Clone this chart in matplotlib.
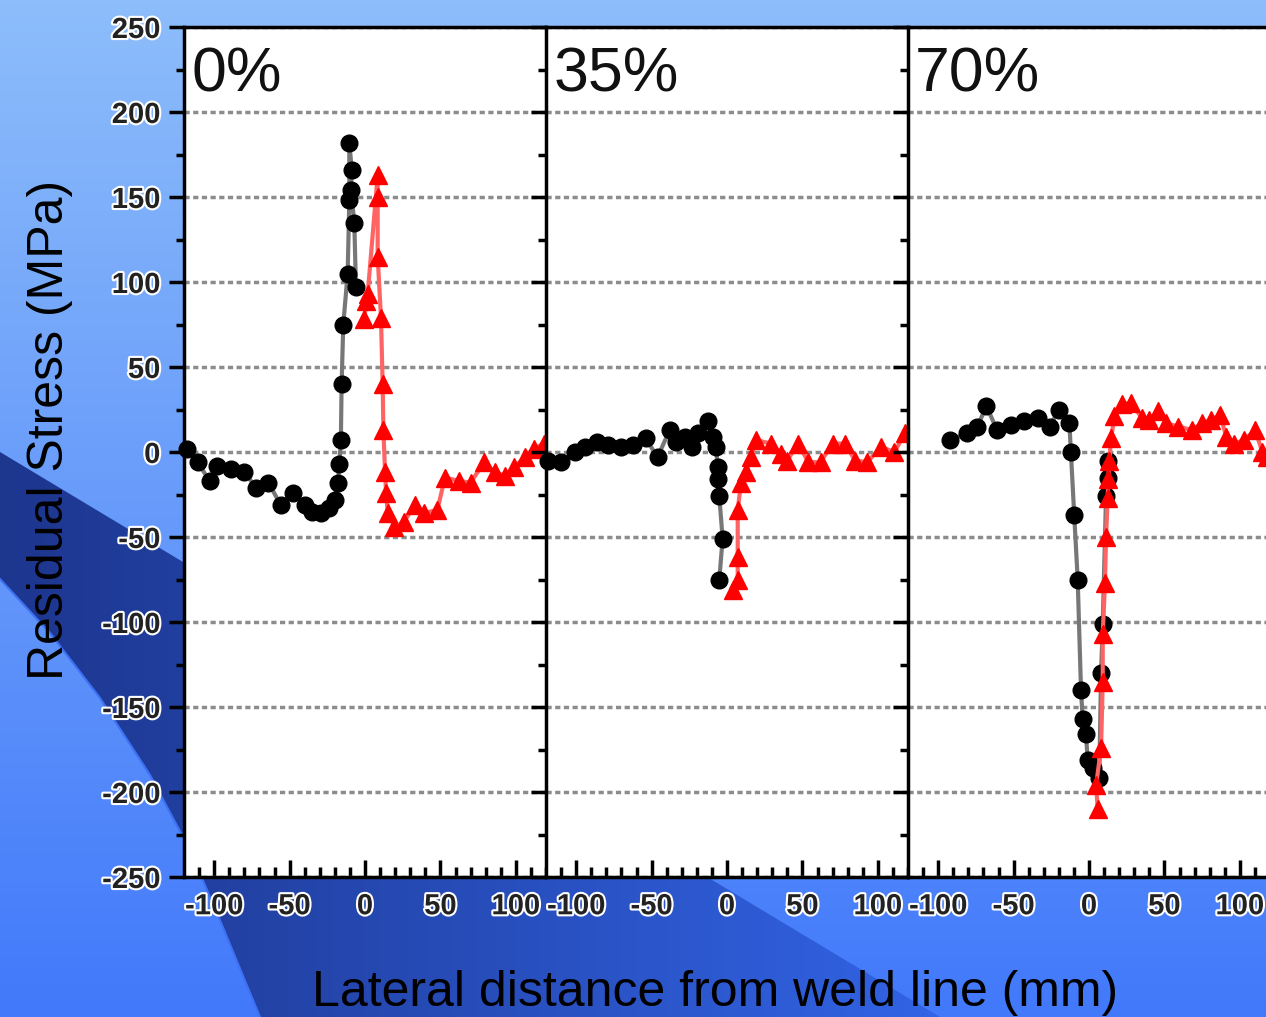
import numpy as np
import matplotlib.pyplot as plt
import matplotlib.patheffects as pe
from matplotlib.patches import Polygon
from matplotlib.colors import LinearSegmentedColormap

plt.rcParams['font.family'] = ['Liberation Sans', 'DejaVu Sans']
plt.rcParams['axes.unicode_minus'] = False

panel_names = ['0%', '35%', '70%']
x_ticks = [-100, -50, 0, 50, 100]
y_ticks = [-250, -200, -150, -100, -50, 0, 50, 100, 150, 200, 250]

# 0 % panel
black_x_0 = [-118, -111, -103, -98, -89, -80, -72, -64, -56, -48, -40, -35, -29, -24, -20, -18, -17, -16,
             -15.5, -14.4, -11.5, -10.4, -10.4, -8.8, -9.3, -7.1, -6]
black_y_0 = [2, -6, -17, -8, -10, -12, -21, -18, -31, -24, -31, -35, -36, -33, -28, -18, -7, 7,
             40, 75, 105, 148, 182, 166, 154, 135, 97]
red_x_0 = [-0.4, 0.7, 1.8, 8.4, 8.4, 8.4, 10.6, 11.7, 12.2, 13.3, 14, 15.1, 19.5, 26, 33, 39, 48, 53,
           62, 70, 79, 86, 93, 99, 106, 112, 119]
red_y_0 = [78, 89, 93, 163, 150, 115, 79, 40, 13, -12, -24, -36, -44, -41, -31, -36, -34, -15,
           -17, -18, -6, -12, -14, -9, -3, 2, 5]

# 35 % panel
black_x_35 = [-119, -110, -101, -94, -86, -79, -70, -62, -54, -46, -38, -34, -28, -23, -19.5, -12.8, -9.5,
              -7.3, -6.2, -6.2, -5.1, -2.9, -5.1]
black_y_35 = [-5, -6, 0, 3, 6, 4, 3, 4, 8, -3, 13, 6, 9, 3, 11, 18, 9,
              3, -9, -16, -26, -51, -75]
red_x_35 = [3.8, 7.1, 7.1, 7.1, 9.3, 12.6, 15.9, 19.3, 29, 36, 40, 47, 54, 62, 70, 78, 85, 93, 102, 111, 118]
red_y_35 = [-81, -75, -62, -34, -18, -12, -3, 7, 5, -1, -5, 5, -6, -6, 5, 5, -5, -6, 3, 0, 11]

# 70 % panel
black_x_70 = [-92, -81, -74, -68, -61, -52, -43, -34, -26, -20, -13, -12, -9.8, -7.5, -5.3, -4.2, -2, -0.9,
              2.5, 6.8, 8, 9.1, 11.3, 12.4, 12.4]
black_y_70 = [7, 11, 15, 27, 13, 16, 18, 20, 15, 25, 17, 0, -37, -75, -140, -157, -166, -181,
              -186, -192, -130, -101, -26, -15, -5]
red_x_70 = [5.8, 4.7, 8, 9.1, 9.1, 10.6, 11.3, 12.4, 12.8, 13.5, 14.6, 16.9, 22, 28, 35, 40, 46, 51,
            59, 68, 75, 81, 87, 91, 96, 103, 110, 115, 118]
red_y_70 = [-210, -196, -174, -135, -107, -77, -50, -27, -16, -5, 8, 21, 28, 29, 20, 19, 24, 17,
            15, 13, 17, 19, 22, 9, 5, 7, 13, 0, -3]

panels = [
    (black_x_0, black_y_0, red_x_0, red_y_0),
    (black_x_35, black_y_35, red_x_35, red_y_35),
    (black_x_70, black_y_70, red_x_70, red_y_70),
]

fig = plt.figure(figsize=(12.66, 10.17), dpi=100)

# slide background
bg = fig.add_axes([0, 0, 1, 1], zorder=-10)
sky = LinearSegmentedColormap.from_list('sky', ['#8dbdfb', '#4279fa'])
bg.imshow(np.linspace(0, 1, 256).reshape(-1, 1), cmap=sky, extent=[0, 1266, 1017, 0], aspect='auto')
upper = [(0, 452), (940, 1017)]
lower = [(260, 1017), (222, 925), (190, 850), (150, 775), (100, 698), (50, 633), (0, 579)]
band = Polygon(upper + lower, closed=True, facecolor='none', edgecolor='none')
bg.add_patch(band)
navy = LinearSegmentedColormap.from_list('navy', ['#1d368e', '#3264e6'])
im = bg.imshow(np.linspace(0, 1, 256).reshape(1, -1), cmap=navy, extent=[0, 950, 1017, 440], aspect='auto')
im.set_clip_path(band)
bg.plot([p[0] for p in lower], [p[1] for p in lower], color='#3d70f4', lw=1.5)
bg.set_xlim(0, 1266)
bg.set_ylim(1017, 0)
bg.axis('off')

halo = [pe.withStroke(linewidth=3, foreground='white')]
w = 362 / 1266
for i, (bx, by, rx, ry) in enumerate(panels):
    ax = fig.add_axes([184 / 1266 + i * w, 1 - 877 / 1017, w, 850 / 1017])
    ax.set_facecolor('white')
    ax.set_xlim(-120, 120)
    ax.set_ylim(-250, 250)
    ax.grid(axis='y', color='#8c8c8c', linestyle=(0, (1.5, 1)), lw=2.5)
    ax.set_axisbelow(True)
    ax.plot(bx, by, color='#777777', lw=3, marker='o', ms=12, mfc='black', mec='black', clip_on=False)
    ax.plot(rx, ry, color='#ff6464', lw=3, marker='^', ms=13, mfc='red', mec='red', clip_on=False)
    ax.text(0.02, 0.978, panel_names[i], transform=ax.transAxes, fontsize=45, va='top', ha='left',
            color='#111111')

    ax.set_xticks(x_ticks)
    ax.set_xticks(np.arange(-110, 121, 10), minor=True)
    ax.set_yticks(y_ticks)
    ax.set_yticks(np.arange(-225, 250, 50), minor=True)
    ax.tick_params(axis='x', which='major', direction='in', length=12, width=2.5, pad=11,
                   labelsize=21, labelcolor='#222222')
    ax.tick_params(axis='x', which='minor', direction='in', length=7, width=2.5)
    ax.tick_params(axis='y', which='major', direction='out', length=11, width=2.5, pad=6,
                   labelsize=21, labelcolor='#222222', labelleft=(i == 0))
    ax.tick_params(axis='y', which='minor', direction='out', length=6, width=2.5)
    for lab in ax.get_xticklabels() + ax.get_yticklabels():
        lab.set_fontweight('bold')
        lab.set_path_effects(halo)
    ax.spines['right'].set_visible(False)
    for s in ['left', 'top', 'bottom']:
        ax.spines[s].set_linewidth(2.5)

fig.text(50 / 1266, 1 - 430 / 1017, 'Residual Stress (MPa)', rotation=90, fontsize=36,
         ha='center', va='center', color='black')
fig.text(715 / 1266, 1 - 1006 / 1017, 'Lateral distance from weld line (mm)', fontsize=36,
         ha='center', va='baseline', color='black')

fig.savefig('out.png', dpi=100)
